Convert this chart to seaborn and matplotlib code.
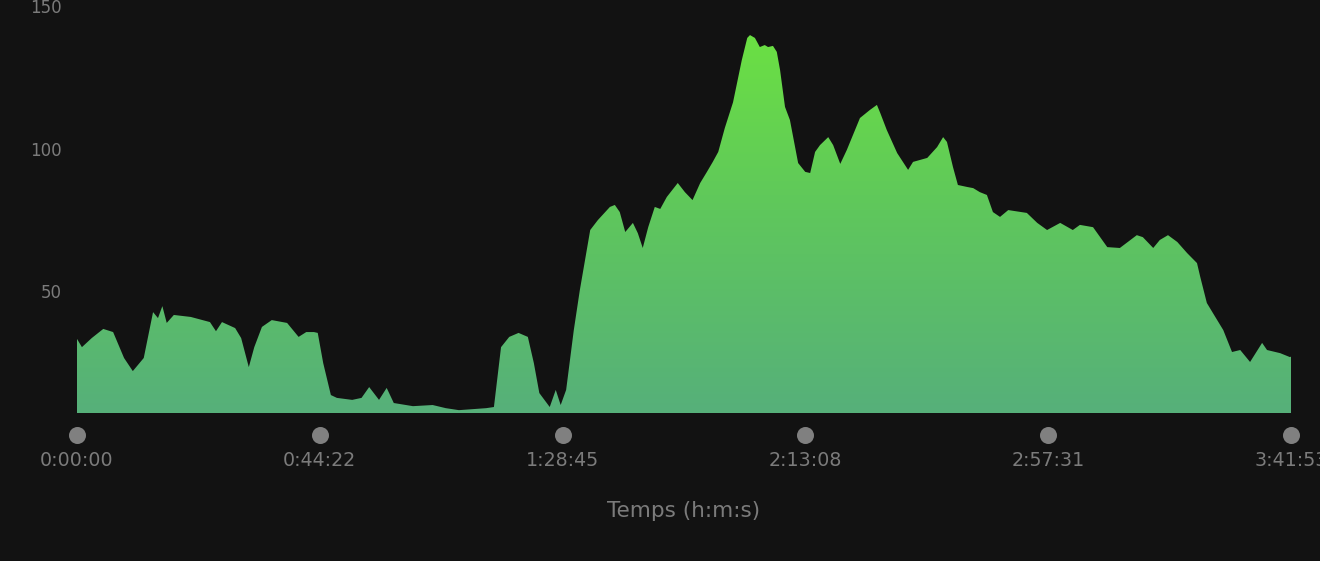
import matplotlib.pyplot as plt
import matplotlib.transforms as mtransforms
from matplotlib.colors import LinearSegmentedColormap
import numpy as np
import pandas as pd
import seaborn as sns

# time in minutes
minutes = [0.0, 0.9, 2.7, 4.8, 6.6, 8.6, 10.2, 12.2, 13.9, 14.8, 15.6, 16.4, 17.7,
           20.8, 24.3, 25.4, 26.5, 28.9, 30.0, 31.4, 32.4, 33.8, 35.6, 38.4, 40.5,
           41.9, 43.3, 44.0, 45.0, 46.4, 47.5, 50.3, 52.0, 53.4, 55.2, 56.6, 57.9,
           61.4, 65.0, 67.4, 69.8, 74.8, 76.2, 77.5, 79.0, 80.7, 82.4, 83.5, 84.5,
           86.4, 87.5, 88.4, 89.4, 90.8, 91.9, 93.8, 95.2, 97.4, 98.3, 99.2, 100.2,
           101.6, 102.5, 103.4, 104.4, 105.6, 106.6, 107.8, 109.8, 111.1, 112.5,
           113.9, 115.1, 116.2, 117.2, 118.4, 119.9, 121.5, 122.5, 123.0, 123.9,
           124.8, 125.7, 126.3, 127.2, 127.9, 128.5, 129.4, 130.3, 131.8, 133.1,
           134.0, 134.9, 135.8, 137.3, 138.2, 139.5, 140.7, 143.1, 144.9, 146.2,
           146.8, 148.0, 149.9, 151.9, 152.8, 155.4, 157.2, 158.3, 159.0, 160.1,
           161.0, 162.7, 163.8, 165.0, 166.3, 167.4, 168.7, 170.2, 173.6, 175.5,
           177.3, 179.7, 182.0, 183.3, 185.7, 188.3, 190.6, 193.7, 194.8, 196.7,
           197.9, 199.4, 201.1, 202.9, 204.7, 205.3, 206.5, 207.6, 209.5, 211.1,
           212.6, 214.4, 216.6, 217.5, 219.9, 221.7, 221.88]
values = [33.2, 30.3, 33.5, 36.7, 35.6, 26.5, 21.9, 26.5, 42.6, 40.5, 44.7, 38.8, 41.6,
          40.9, 39.1, 35.9, 39.1, 37.0, 33.5, 23.3, 30.3, 37.4, 39.8, 38.8, 33.9,
          35.6, 35.6, 35.3, 24.7, 13.5, 12.5, 11.8, 12.5, 16.3, 11.8, 16.0, 10.7,
          9.6, 10.0, 8.9, 8.2, 8.9, 9.3, 30.3, 33.9, 35.3, 33.9, 24.7, 14.2,
          9.3, 15.3, 10.0, 15.3, 36.3, 50.3, 71.4, 74.9, 79.5, 80.2, 77.7, 70.7,
          73.9, 70.3, 65.1, 72.4, 79.5, 78.8, 83.0, 87.9, 84.7, 81.9,
          87.9, 91.7, 95.3, 98.8, 107.2, 116.2, 131.0, 138.8, 139.8, 138.8,
          135.6, 136.3, 135.6, 136.0, 133.9, 127.5, 114.6, 110.0, 94.9, 91.8,
          91.4, 98.8, 101.2, 104.0, 101.2, 94.6, 99.5, 110.7, 113.5, 115.3,
          112.5, 106.5, 98.4, 92.5, 95.3, 96.7, 100.5, 104.0, 102.3, 93.5,
          87.2, 86.5, 86.1, 84.7, 83.7, 77.7, 76.0, 78.4, 77.4, 73.9,
          71.4, 73.9, 71.4, 73.2, 72.4, 65.4, 65.1, 69.6, 68.9, 65.1,
          67.9, 69.6, 67.2, 63.3, 59.8, 54.9, 45.8, 42.3, 36.3, 28.6,
          29.3, 25.1, 31.8, 29.3, 28.2, 26.8, 27.0]

tick_minutes = [0, 44.375, 88.75, 133.125, 177.5, 221.88]
tick_labels = ["0:00:00", "0:44:22", "1:28:45", "2:13:08", "2:57:31", "3:41:53"]
y_ticks = [50, 100, 150]

bg = "#121212"
grey = "#7b7b7b"
ymin, ymax = 7.2, 150

df = pd.DataFrame({"t": minutes, "v": values})

sns.set_theme(style="dark")
plt.rcParams['font.family'] = ['DejaVu Sans']

fig = plt.figure(figsize=(13.2, 5.61), dpi=100, facecolor=bg)
ax = fig.add_axes([77 / 1320, 1 - 413 / 561, (1291 - 77) / 1320, (413 - 6) / 561])
ax.set_facecolor(bg)

sns.lineplot(data=df, x="t", y="v", ax=ax, linewidth=0, color="#5ec862")

# gradient fill clipped to the area under the curve
poly = ax.fill_between(df["t"], df["v"], ymin, facecolor="none", edgecolor="none")
cmap = LinearSegmentedColormap.from_list("g", ["#56b07a", "#5fc75c", "#6de43f"])
grad = np.linspace(0, 1, 256).reshape(-1, 1)
img = ax.imshow(grad, cmap=cmap, aspect="auto", origin="lower",
                extent=[minutes[0], minutes[-1], ymin, ymax], zorder=2)
img.set_clip_path(poly.get_paths()[0], transform=ax.transData)

ax.set_xlim(minutes[0], minutes[-1])
ax.set_ylim(ymin, ymax)
for s in ax.spines.values():
    s.set_visible(False)
ax.grid(False)

ax.set_yticks(y_ticks)
ax.set_yticklabels([str(v) for v in y_ticks])
ax.tick_params(axis="y", length=0, pad=11, labelsize=12, labelcolor=grey)

ax.set_xticks(tick_minutes)
ax.set_xticklabels(tick_labels)
ax.tick_params(axis="x", length=0, pad=27, labelsize=13.7, labelcolor=grey)

# round markers under each tick
trans = mtransforms.blended_transform_factory(ax.transData, ax.transAxes)
ax.scatter(tick_minutes, [-22 / 407] * len(tick_minutes), s=150, color="#808080",
           transform=trans, clip_on=False, zorder=3, linewidths=0)

ax.set_xlabel("Temps (h:m:s)", color=grey, fontsize=15.5, labelpad=23)
ax.set_ylabel("")

fig.savefig("out.png", dpi=100, facecolor=bg)
